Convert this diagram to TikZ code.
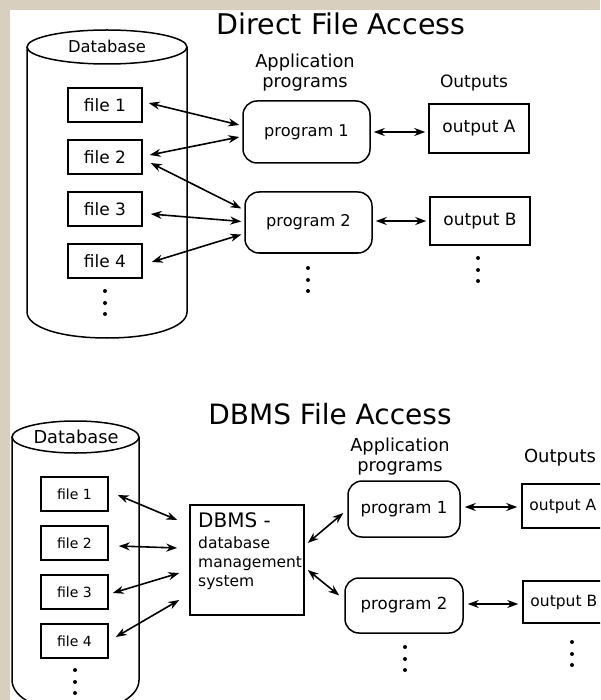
\documentclass[tikz,border=0pt]{standalone}
\usepackage{fontspec}
\setmainfont{DejaVu Sans}
\usetikzlibrary{arrows.meta,calc}
\newcommand{\fsz}[2]{\fontsize{#1}{#2}\selectfont}
\definecolor{parch}{RGB}{216,207,190}
\begin{document}
\begin{tikzpicture}[x=1pt,y=-1pt,
  lw/.style={line width=1.5pt},
  box/.style={draw, line width=1.5pt, inner sep=0pt},
  filetop/.style={box, minimum width=74pt, minimum height=34pt, font=\fsz{17}{18}},
  filebot/.style={box, minimum width=67pt, minimum height=34pt, font=\fsz{14}{16}},
  prog/.style={box, rounded corners=14pt},
  outbox/.style={box},
  arr/.style={line width=1.6pt, {Stealth[length=11pt,width=8pt]}-{Stealth[length=11pt,width=8pt]}},
  dot/.style={fill=black}]
\clip (0,0) rectangle (600,700);
\fill[white] (0,0) rectangle (600,700);
\fill[parch] (0,0) rectangle (600,10);
\fill[parch] (0,0) rectangle (10,700);

% ================= TOP: Direct File Access =================
\node[font=\fsz{28.5}{30}] (t1) at (341,24) {Direct File Access};

% cylinder
\draw[lw] (27,47) -- (27,312) .. controls (27,327) and (60,338) .. (107,338)
  .. controls (154,338) and (187,327) .. (187,312) -- (187,47);
\draw[lw] (107,47) ellipse [x radius=80pt, y radius=17pt];
\node[font=\fsz{16.3}{18}] (db1) at (107,46) {Database};

\node[filetop] (a1) at (105,105) {file 1};
\node[filetop] (a2) at (105,157) {file 2};
\node[filetop] (a3) at (105,209) {file 3};
\node[filetop] (a4) at (105,261) {file 4};
\foreach \yy in {291,303,314} \fill[dot] (105,\yy) circle (2pt);

\node[align=center, font=\fsz{17.8}{20}] (ap1) at (305,73) {Application\\programs};
\node[font=\fsz{17}{18}] (op1) at (474,83) {Outputs};

\node[prog, minimum width=127pt, minimum height=62pt, font=\fsz{16.2}{18}] (p1) at (306.5,132) {program 1};
\node[prog, minimum width=127pt, minimum height=61pt, font=\fsz{16.2}{18}] (p2) at (308.5,222.5) {program 2};
\node[outbox, minimum width=100pt, minimum height=49pt, font=\fsz{17}{18}] (oa) at (479,128.5) {output A};
\node[outbox, minimum width=100pt, minimum height=48pt, font=\fsz{17}{18}] (ob) at (480,221) {output B};
\foreach \yy in {268,280,291} \fill[dot] (308,\yy) circle (2pt);
\foreach \yy in {258,270,281} \fill[dot] (478,\yy) circle (2pt);

\draw[arr] ($(a1.east)+(6,-2)$) -- ($(p1.west)+(-3,-7)$);
\draw[arr] ($(a2.east)+(7,-2)$) -- ($(p1.west)+(-3,5)$);
\draw[arr] ($(a2.east)+(8,6)$) -- ($(p2.west)+(-3,-14)$);
\draw[arr] ($(a3.east)+(8,5)$) -- ($(p2.west)+(-3,-1)$);
\draw[arr] ($(a4.east)+(9,1)$) -- ($(p2.west)+(-3,12)$);
\draw[arr, shorten <=3pt, shorten >=3pt] (p1.east) -- (p1.east -| oa.west);
\draw[arr, shorten <=3pt, shorten >=3pt] ($(p2.east)+(0,-1.5)$) -- ($(p2.east -| ob.west)+(0,-1.5)$);

% ================= BOTTOM: DBMS File Access =================
\node[font=\fsz{28}{30}] (t2) at (330,414) {DBMS File Access};

\draw[lw] (12,437) -- (12,680) .. controls (12,698) and (40,712) .. (75.5,712)
  .. controls (111,712) and (139,698) .. (139,680) -- (139,437);
\draw[lw] (75.5,437) ellipse [x radius=63.5pt, y radius=16pt];
\node[font=\fsz{17.8}{20}] (db2) at (76,437) {Database};

\node[filebot] (b1) at (74.5,494) {file 1};
\node[filebot] (b2) at (74.5,543) {file 2};
\node[filebot] (b3) at (74.5,592) {file 3};
\node[filebot] (b4) at (74.5,641) {file 4};
\foreach \yy in {670,682,693} \fill[dot] (75,\yy) circle (2pt);

\node[box, minimum width=114pt, minimum height=110pt] (dbms) at (247,560) {};
\node[anchor=north west, align=left, inner sep=0pt, font=\fsz{15.5}{19}] (dbmst) at (198,512)
  {{\fsz{20}{22}DBMS -}\\[2pt]database\\management\\system};

\node[align=center, font=\fsz{17.8}{20}] (ap2) at (400,457) {Application\\programs};
\node[font=\fsz{18}{20}] (op2) at (560,458) {Outputs};

\node[prog, minimum width=112pt, minimum height=56pt, font=\fsz{16.6}{18}] (q1) at (404,509) {program 1};
\node[prog, minimum width=118pt, minimum height=55pt, font=\fsz{16.6}{18}] (q2) at (404,605.5) {program 2};
\node[outbox, minimum width=90pt, minimum height=44pt] (qa) at (567,506) {};
\node[outbox, minimum width=90pt, minimum height=42pt] (qb) at (568,602) {};
\node[anchor=west, inner sep=0pt, font=\fsz{15.5}{18}] (qat) at ($(qa.west)+(8,0)$) {output A};
\node[anchor=west, inner sep=0pt, font=\fsz{15.5}{18}] (qbt) at ($(qb.west)+(8,0)$) {output B};
\foreach \yy in {647,659,670} \fill[dot] (405,\yy) circle (2pt);
\foreach \yy in {642,654,665} \fill[dot] (572,\yy) circle (2pt);

\draw[arr] ($(b1.east)+(9,1)$) -- ($(dbms.west)+(-12,-40)$);
\draw[arr] ($(b2.east)+(10,3)$) -- ($(dbms.west)+(-12,-12)$);
\draw[arr] ($(b3.east)+(4,1)$) -- ($(dbms.west)+(-10,13)$);
\draw[arr] ($(b4.east)+(7,-4)$) -- ($(dbms.west)+(-10,40)$);
\draw[arr] ($(dbms.east)+(3,-17)$) -- ($(q1.west)+(-4,4)$);
\draw[arr] ($(dbms.east)+(3,10)$) -- ($(q2.west)+(-5,-10)$);
\draw[arr, shorten <=4pt, shorten >=4pt] ($(q1.east)+(0,-2)$) -- ($(q1.east -| qa.west)+(0,-2)$);
\draw[arr, shorten <=4pt, shorten >=4pt] ($(q2.east)+(0,-1.5)$) -- ($(q2.east -| qb.west)+(0,-1.5)$);
\end{tikzpicture}
\end{document}
